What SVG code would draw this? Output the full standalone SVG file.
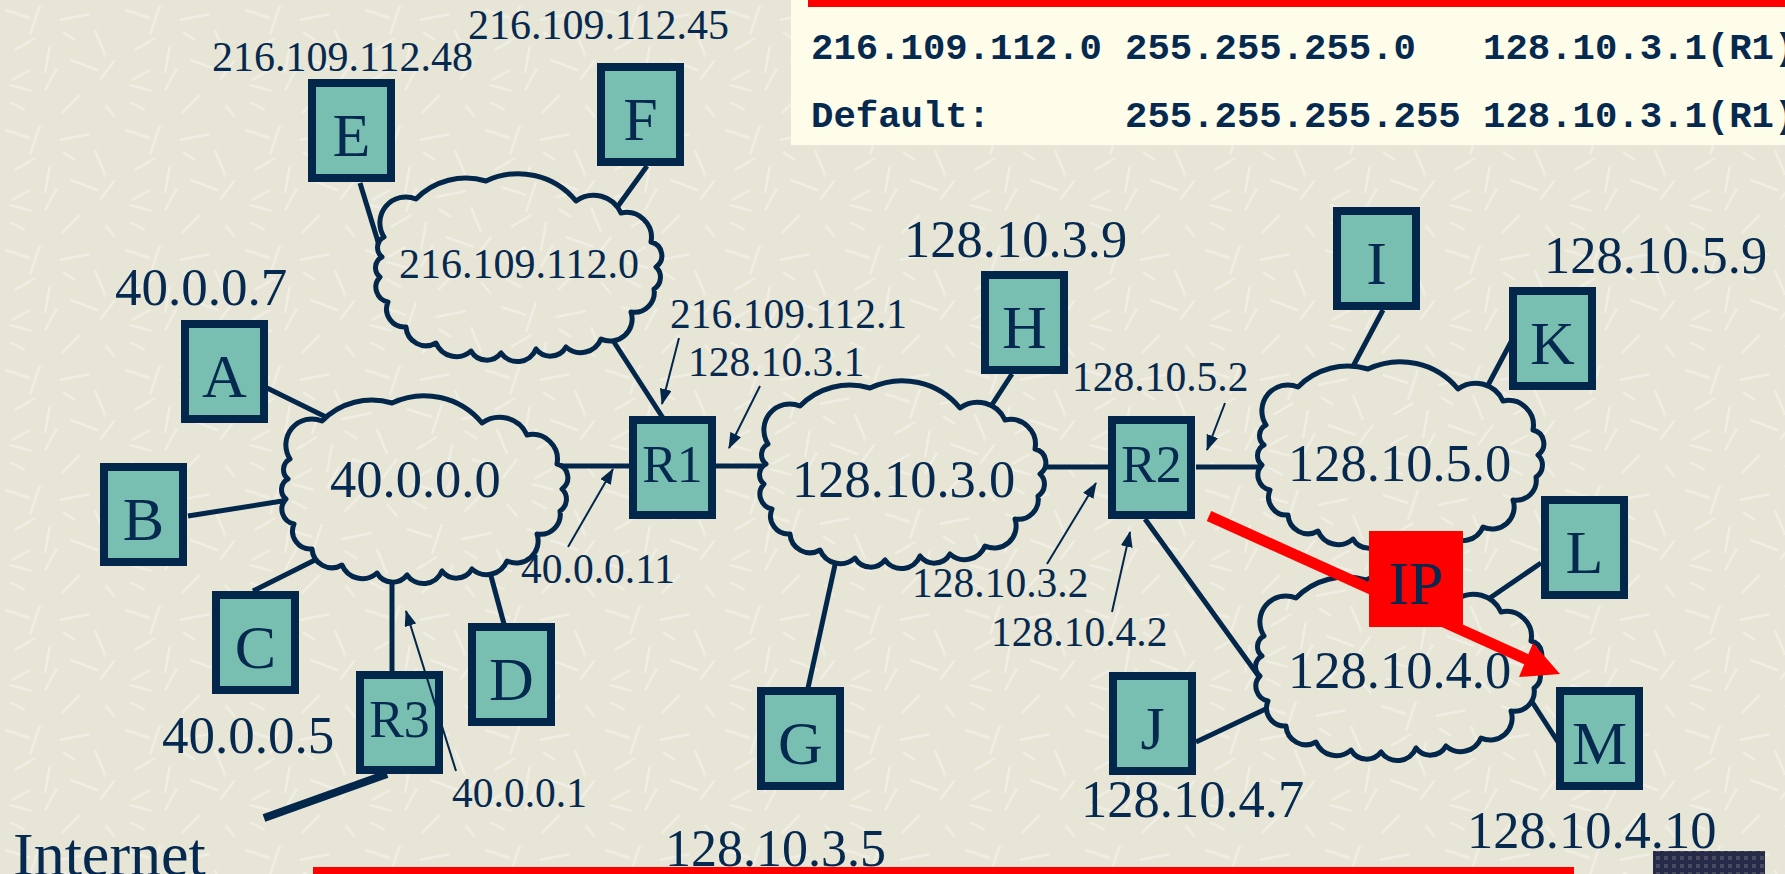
<svg xmlns="http://www.w3.org/2000/svg" width="1785" height="874" viewBox="0 0 1785 874">
<style>
.box{fill:#79bfb1;stroke:#03264b;stroke-width:8}
.lt{font-family:"Liberation Serif","Times New Roman",serif;fill:#06294f;text-anchor:middle}
.lbl{font-family:"Liberation Serif","Times New Roman",serif;fill:#06294f}
.tbl{font-family:"Liberation Mono","Courier New",monospace;font-weight:bold;font-size:37.3px;fill:#06294f}
.ln{stroke:#03264b;stroke-width:5;fill:none}
.ptr{stroke:#03264b;stroke-width:2;fill:none;marker-end:url(#ah)}
.cloud{fill:url(#bg);stroke:#03264b;stroke-width:5;stroke-linejoin:round}
</style>
<defs>
<pattern id="bg" patternUnits="userSpaceOnUse" width="120" height="120">
<rect width="120" height="120" fill="#e6e5d6"/>
<path d="M5,10 l25,8 M40,5 l-10,30 M60,20 l30,-6 M95,30 l10,25 M15,50 l20,-12 M50,45 l-5,28 M70,60 l28,10 M10,85 l22,6 M45,90 l12,-22 M80,95 l-18,18 M100,80 l15,-20 M25,110 l-15,-8 M105,105 l10,12 M75,40 l-12,-8 M30,70 l-18,10" stroke="#f4f3ea" stroke-width="2.5" opacity="0.7" fill="none"/>
</pattern>
<pattern id="dk" patternUnits="userSpaceOnUse" width="8" height="8">
<rect width="8" height="8" fill="#272b4a"/>
<rect width="4" height="4" fill="#4a4c5e"/>
</pattern>
<marker id="ah" markerUnits="userSpaceOnUse" markerWidth="16" markerHeight="12" refX="15" refY="6" orient="auto">
<path d="M0,0 L16,6 L0,12 z" fill="#03264b"/>
</marker>
<path id="cl" d="M8,60 A26,26 0 0 1 40,22 A70,70 0 0 1 110,4 A75,75 0 0 1 200,24 A30,30 0 0 1 245,36 A25,25 0 0 1 275,65 A14,14 0 0 1 280,90 A14,14 0 0 1 278,112 A20,20 0 0 1 255,135 A22,22 0 0 1 225,162 A22,22 0 0 1 190,170 A18,18 0 0 1 160,172 A20,20 0 0 1 125,176 A18,18 0 0 1 95,174 A22,22 0 0 1 60,166 A20,20 0 0 1 30,150 A18,18 0 0 1 12,125 A15,15 0 0 1 4,100 A12,12 0 0 1 6,80 A12,12 0 0 1 8,60 Z"/>
</defs>
<rect width="1785" height="874" fill="url(#bg)"/>

<g id="connectors">
<line class="ln" x1="360" y1="183" x2="379" y2="245"/>
<line class="ln" x1="647" y1="166" x2="613" y2="213"/>
<line class="ln" x1="601" y1="322" x2="663" y2="418"/>
<line class="ln" x1="265" y1="387" x2="330" y2="419"/>
<line class="ln" x1="188" y1="516" x2="295" y2="499"/>
<line class="ln" x1="253" y1="591" x2="315" y2="560"/>
<line class="ln" x1="504" y1="624" x2="488" y2="565"/>
<line class="ln" x1="392" y1="672" x2="392" y2="575"/>
<line x1="387" y1="774" x2="264" y2="818" stroke="#03264b" stroke-width="8"/>
<line class="ln" x1="560" y1="466" x2="630" y2="466"/>
<line class="ln" x1="716" y1="466" x2="780" y2="466"/>
<line class="ln" x1="808" y1="688" x2="840" y2="542"/>
<line class="ln" x1="1012" y1="374" x2="982" y2="420"/>
<line class="ln" x1="1040" y1="467" x2="1110" y2="467"/>
<line class="ln" x1="1196" y1="467" x2="1262" y2="467"/>
<line class="ln" x1="1383" y1="310" x2="1350" y2="372"/>
<line class="ln" x1="1512" y1="340" x2="1478" y2="404"/>
<line class="ln" x1="1145" y1="519" x2="1260" y2="678"/>
<line class="ln" x1="1196" y1="742" x2="1274" y2="705"/>
<line class="ln" x1="1541" y1="563" x2="1465" y2="615"/>
<line class="ln" x1="1558" y1="742" x2="1527" y2="694"/>
</g>

<g id="net-216-109-112-0"><use href="#cl" class="cloud" transform="translate(376,177)"/><text class="lbl" x="399" y="278" font-size="42">216.109.112.0</text></g>
<g id="net-40-0-0-0"><use href="#cl" class="cloud" transform="translate(282,399)"/><text class="lbl" x="330" y="497" font-size="52.5">40.0.0.0</text></g>
<g id="net-128-10-3-0"><use href="#cl" class="cloud" transform="translate(760,384)"/><text class="lbl" x="792" y="497" font-size="52.5">128.10.3.0</text></g>
<g id="net-128-10-5-0"><use href="#cl" class="cloud" transform="translate(1258,365)"/><text class="lbl" x="1288" y="481" font-size="52.5">128.10.5.0</text></g>
<g id="net-128-10-4-0"><use href="#cl" class="cloud" transform="translate(1256,576)"/><text class="lbl" x="1288" y="688" font-size="52.5">128.10.4.0</text></g>

<g id="node-E"><rect class="box" x="312" y="83" width="79" height="95"/><text class="lt" x="351.5" y="156" font-size="62">E</text></g>
<g id="node-F"><rect class="box" x="601" y="67" width="79" height="95"/><text class="lt" x="640.5" y="140" font-size="62">F</text></g>
<g id="node-A"><rect class="box" x="185" y="324" width="79" height="95"/><text class="lt" x="224.5" y="397" font-size="62">A</text></g>
<g id="node-B"><rect class="box" x="104" y="467" width="79" height="95"/><text class="lt" x="143.5" y="540" font-size="62">B</text></g>
<g id="node-C"><rect class="box" x="216" y="595" width="79" height="95"/><text class="lt" x="255.5" y="668" font-size="62">C</text></g>
<g id="node-D"><rect class="box" x="472" y="627" width="79" height="95"/><text class="lt" x="511.5" y="700" font-size="62">D</text></g>
<g id="node-R3"><rect class="box" x="360" y="675" width="79" height="95"/><text class="lt" x="399.5" y="737" font-size="52">R3</text></g>
<g id="node-R1"><rect class="box" x="633" y="420" width="79" height="95"/><text class="lt" x="672.5" y="482" font-size="52">R1</text></g>
<g id="node-G"><rect class="box" x="761" y="691" width="79" height="95"/><text class="lt" x="800.5" y="764" font-size="62">G</text></g>
<g id="node-H"><rect class="box" x="985" y="275" width="79" height="95"/><text class="lt" x="1024.5" y="348" font-size="62">H</text></g>
<g id="node-I"><rect class="box" x="1337" y="211" width="79" height="95"/><text class="lt" x="1376.5" y="284" font-size="62">I</text></g>
<g id="node-K"><rect class="box" x="1513" y="291" width="79" height="95"/><text class="lt" x="1552.5" y="364" font-size="62">K</text></g>
<g id="node-R2"><rect class="box" x="1112" y="420" width="79" height="95"/><text class="lt" x="1151.5" y="482" font-size="52">R2</text></g>
<g id="node-L"><rect class="box" x="1545" y="500" width="79" height="95"/><text class="lt" x="1584.5" y="573" font-size="62">L</text></g>
<g id="node-J"><rect class="box" x="1113" y="676" width="79" height="95"/><text class="lt" x="1152.5" y="749" font-size="62">J</text></g>
<g id="node-M"><rect class="box" x="1560" y="691" width="79" height="95"/><text class="lt" x="1599.5" y="764" font-size="62">M</text></g>

<g id="labels">
<text class="lbl" x="212" y="71" font-size="42">216.109.112.48</text>
<text class="lbl" x="468" y="39" font-size="42">216.109.112.45</text>
<text class="lbl" x="115" y="305" font-size="53">40.0.0.7</text>
<text class="lbl" x="670" y="328" font-size="41.5">216.109.112.1</text>
<text class="lbl" x="688" y="376" font-size="41.5">128.10.3.1</text>
<text class="lbl" x="521" y="583" font-size="41.5">40.0.0.11</text>
<text class="lbl" x="162" y="753" font-size="53">40.0.0.5</text>
<text class="lbl" x="452" y="807" font-size="41.5">40.0.0.1</text>
<text class="lbl" x="13" y="875" font-size="62">Internet</text>
<text class="lbl" x="665" y="866" font-size="52">128.10.3.5</text>
<text class="lbl" x="904" y="257" font-size="52.5">128.10.3.9</text>
<text class="lbl" x="1072" y="391" font-size="41.5">128.10.5.2</text>
<text class="lbl" x="912" y="597" font-size="41.5">128.10.3.2</text>
<text class="lbl" x="991" y="646" font-size="41.5">128.10.4.2</text>
<text class="lbl" x="1544" y="273" font-size="52.5">128.10.5.9</text>
<text class="lbl" x="1081" y="817" font-size="52.5">128.10.4.7</text>
</g>

<g id="pointers">
<line class="ptr" x1="679" y1="338" x2="662" y2="404"/>
<line class="ptr" x1="760" y1="386" x2="729" y2="448"/>
<line class="ptr" x1="568" y1="547" x2="613" y2="469"/>
<line class="ptr" x1="456" y1="771" x2="406" y2="611"/>
<line class="ptr" x1="1225" y1="403" x2="1207" y2="450"/>
<line class="ptr" x1="1047" y1="564" x2="1096" y2="483"/>
<line class="ptr" x1="1112" y1="612" x2="1130" y2="532"/>
</g>

<g id="ip-packet">
<line x1="1209" y1="516" x2="1528" y2="660" stroke="#ff0000" stroke-width="11"/>
<path d="M1560,674 L1533,643 L1519,677 Z" fill="#ff0000"/>
<rect x="1369" y="531" width="94" height="96" fill="#ff0000"/>
<text class="lt" x="1416" y="604" font-size="62">IP</text>
</g>

<g id="routing-table">
<rect x="791" y="0" width="994" height="145" fill="#fefde9"/>
<rect x="808" y="0" width="977" height="7" fill="#ff0000"/>
<text class="tbl" x="811" y="59">216.109.112.0</text>
<text class="tbl" x="1125" y="59">255.255.255.0</text>
<text class="tbl" x="1483" y="59">128.10.3.1(R1)</text>
<text class="tbl" x="811" y="127">Default:</text>
<text class="tbl" x="1125" y="127">255.255.255.255</text>
<text class="tbl" x="1483" y="127">128.10.3.1(R1)</text>
</g>

<rect x="313" y="867" width="1261" height="7" fill="#ff0000"/>
<rect x="1653" y="851" width="112" height="23" fill="url(#dk)"/>
<text class="lbl" x="1467" y="848" font-size="52.5">128.10.4.10</text>
</svg>
